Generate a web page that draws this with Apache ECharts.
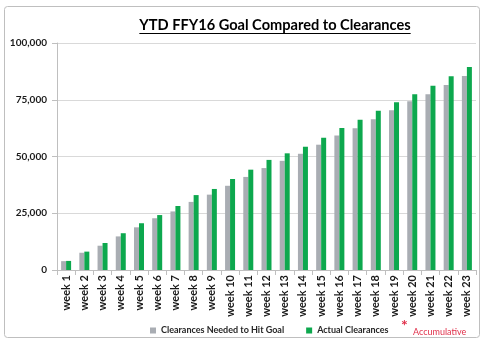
<!DOCTYPE html>
<html><head><meta charset="utf-8">
<script src="https://cdn.jsdelivr.net/npm/echarts@6/dist/echarts.min.js"></script>
<style>html,body{margin:0;padding:0;background:#fff}#c{width:485px;height:340px}</style>
</head><body><div id="c"></div>
<script>
const categories = ['week 1','week 2','week 3','week 4','week 5','week 6','week 7','week 8','week 9','week 10','week 11','week 12','week 13','week 14','week 15','week 16','week 17','week 18','week 19','week 20','week 21','week 22','week 23'];
const goalValues = [3900,7600,10700,14800,18800,22800,25800,30000,33200,37100,41000,44900,48100,51200,55200,59200,62400,66400,70400,74300,77400,81500,85500];
const actualValues = [4000,8100,11900,16200,20600,24200,28200,33000,35700,40100,44200,48500,51400,54300,58300,62600,66200,70200,73900,77400,81200,85300,89400];
const seriesNames = ['Clearances Needed to Hit Goal','Actual Clearances'];
const titleText = 'YTD FFY16 Goal Compared to Clearances';
const noteText = 'Accumulative';

const FONT = 'Lato';
const chart = echarts.init(document.getElementById('c'), null, {renderer:'canvas'});

const cvs = document.createElement('canvas').getContext('2d');
cvs.font = 'bold 14.6px ' + FONT;
const tw = cvs.measureText(titleText).width;
const tcx = 275;

chart.setOption({
  animation:false,
  backgroundColor:'#fff',
  grid:{left:57,right:9,top:43,bottom:70,containLabel:false},
  legend:{
    data:seriesNames, left:145, top:321, icon:'rect', itemWidth:6, itemHeight:6, itemGap:22, itemTextGap:4,
    textStyle:{fontFamily:FONT,fontWeight:'bold',fontSize:9,color:'#262626'}
  },
  xAxis:{
    type:'category', data:categories,
    axisLine:{lineStyle:{color:'#BFBFBF'}},
    axisTick:{show:true,alignWithLabel:false,length:5,lineStyle:{color:'#BFBFBF'}},
    axisLabel:{rotate:90,fontFamily:FONT,fontWeight:'bold',fontSize:11,color:'#1a1a1a',margin:5}
  },
  yAxis:{
    type:'value', min:0, max:100000, interval:25000,
    axisLine:{show:true,lineStyle:{color:'#BFBFBF'}},
    axisTick:{show:true,length:5,lineStyle:{color:'#BFBFBF'}},
    splitLine:{lineStyle:{color:'#D9D9D9'}},
    axisLabel:{fontFamily:FONT,fontWeight:'bold',fontSize:10,color:'#1a1a1a',margin:10,
      formatter:v=>v.toLocaleString('en-US')}
  },
  series:[
    {name:seriesNames[0],type:'bar',data:goalValues,barWidth:5,barGap:'0%',itemStyle:{color:'#A9ADB3'}},
    {name:seriesNames[1],type:'bar',data:actualValues,barWidth:5,barGap:'0%',itemStyle:{color:'#0DA84E'}}
  ],
  graphic:[
    {type:'rect',shape:{x:4.5,y:6.5,width:475,height:331,r:3},style:{fill:'none',stroke:'#BFBFBF',lineWidth:1},silent:true},
    {type:'text',x:tcx,y:25,style:{text:titleText,fontFamily:FONT,fontWeight:'bold',fontSize:14.6,fill:'#000',align:'center',verticalAlign:'middle'}},
    {type:'rect',shape:{x:tcx-tw/2,y:33,width:tw,height:1},style:{fill:'#000'}},
    {type:'text',x:401,y:318,style:{text:'*',fontFamily:FONT,fontWeight:'bold',fontSize:16,fill:'#E0304A'}},
    {type:'text',x:413,y:328,style:{text:noteText,fontFamily:FONT,fontSize:9,fill:'#E0304A'}}
  ]
});
</script></body></html>
